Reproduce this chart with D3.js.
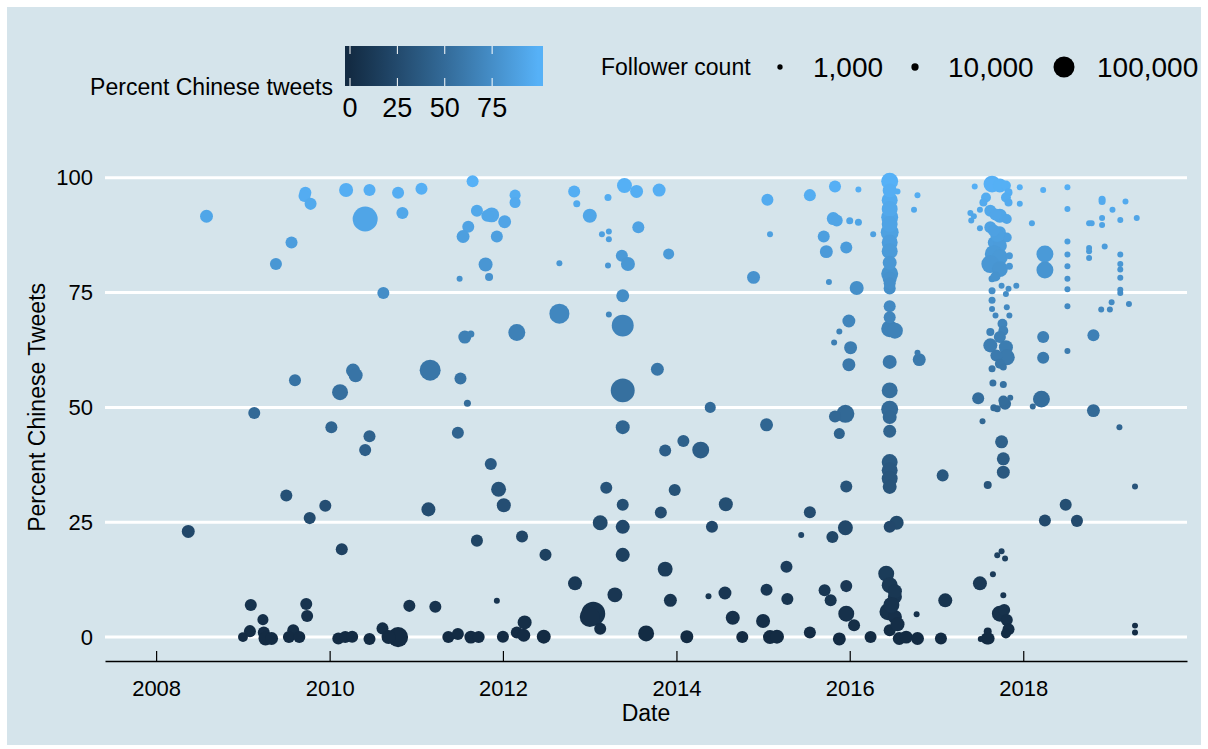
<!DOCTYPE html>
<html>
<head>
<meta charset="utf-8">
<script src="https://cdn.jsdelivr.net/npm/d3@7"></script>
<style>
body { margin: 0; background: #fff; }
text { font-family: "Liberation Sans", Arial, sans-serif; fill: #000; }
</style>
</head>
<body>
<div id="main"></div>
<script>

// account creation date (decimal year)
var dateYears = [
    // 2008 - 2009
    2008.58, 2008.37, 2009.72, 2009.71, 2009.78, 2009.56, 2009.38, 2009.60, 2009.13, 2009.50, 2009.77, 2009.95,
    2009.09, 2009.73, 2009.74, 2009.23, 2009.08, 2009.00, 2009.24, 2009.26, 2009.33, 2009.58, 2009.53, 2009.65,
    // 2010 - 2011
    2010.19, 2010.46, 2010.41, 2010.62, 2010.27, 2010.30, 2010.12, 2010.02, 2010.46, 2010.41, 2010.14, 2010.10,
    2010.18, 2010.26, 2010.46, 2010.61, 2010.79, 2010.68, 2010.92, 2010.79, 2010.84, 2011.06, 2011.16, 2011.14,
    2011.22, 2011.37, 2011.48, 2011.63, 2011.72, 2011.65, 2011.70, 2011.87, 2011.82, 2011.60, 2011.54, 2011.93,
    2011.80, 2011.50, 2011.84, 2011.56, 2011.63, 2011.51, 2011.59, 2011.48, 2011.86, 2011.95, 2011.70,
    // 2012 - 2013
    2012.14, 2012.14, 2012.02, 2012.16, 2012.01, 2012.22, 2012.49, 2011.93, 2012.25, 2012.16, 2012.24,
    2012.47, 2012.00, 2012.82, 2012.85, 2012.65, 2012.65, 2013.00, 2012.83, 2013.04, 2013.00, 2013.12,
    2013.12, 2013.19, 2013.21, 2013.14, 2013.22, 2013.22, 2013.21, 2013.22, 2013.29, 2013.40, 2013.54,
    2013.56, 2013.37, 2013.44, 2013.38, 2013.38, 2013.38, 2013.38, 2013.38, 2013.38, 2013.38, 2013.65,
    // 2014 - 2016
    2013.80, 2013.91, 2013.78, 2014.39, 2014.08, 2013.87, 2014.28, 2013.98, 2014.57, 2013.82,
    2014.41, 2013.87, 2013.93, 2014.37, 2014.56, 2014.65, 2014.12, 2014.76, 2015.05, 2015.08,
    2014.89, 2015.04, 2015.04, 2015.27, 2015.28, 2015.00, 2015.08, 2015.16, 2015.44, 2015.54,
    2015.54, 2015.54, 2015.83, 2016.10, 2015.81, 2015.85, 2016.00, 2016.10, 2016.27, 2015.70,
    2015.96, 2015.73, 2015.76, 2016.08, 2015.99, 2015.88, 2015.82, 2016.01, 2015.99, 2015.95,
    2015.83, 2015.88, 2015.96, 2015.95, 2015.80, 2015.71, 2015.78, 2015.96, 2015.96, 2016.05,
    2015.88, 2016.24,
    // mid 2016 column
    2016.46, 2016.46, 2016.46, 2016.46, 2016.46, 2016.46, 2016.46, 2016.46, 2016.46, 2016.46,
    2016.46, 2016.52, 2016.46, 2016.80, 2016.46, 2016.46, 2016.46, 2016.46, 2016.46, 2016.46,
    2016.46, 2016.46, 2016.54, 2016.46, 2016.42, 2016.46, 2016.52, 2016.44, 2016.52, 2016.46,
    2016.57, 2016.65, 2016.78, 2016.55, 2016.74, 2016.78, 2016.78, 2016.77,
    2016.46, 2016.46, 2016.46, 2016.46, 2016.46, 2016.46, 2016.52, 2016.48, 2016.55,
    // 2017 first half
    2017.07, 2017.10, 2017.05, 2017.44, 2017.39, 2017.40, 2017.43, 2017.48, 2017.50, 2017.53, 2017.51, 2017.58, 2017.59,
    // late 2017 column
    2017.64, 2017.73, 2017.80, 2017.96, 2017.83, 2017.57, 2017.80, 2017.83, 2017.96, 2017.54,
    2017.50, 2017.62, 2017.73, 2017.81, 2017.50, 2017.62, 2017.73, 2017.81, 2017.66, 2017.73,
    2017.66, 2017.73, 2017.62, 2017.73, 2017.84, 2017.84, 2017.64, 2017.75, 2017.83, 2017.80,
    2017.92, 2017.64, 2017.64, 2017.64, 2017.81, 2017.84, 2017.68, 2017.76, 2017.62, 2017.77,
    2017.73, 2017.62, 2017.80, 2017.81, 2017.69, 2017.73, 2017.64, 2017.77, 2017.65, 2017.77,
    2017.79, 2017.85, 2017.66, 2017.70, 2017.75, 2017.77, 2017.77, 2017.59, 2017.75, 2017.70,
    2017.79, 2017.65, 2017.77, 2017.73, 2017.78, 2017.81, 2017.83, 2017.60, 2017.80,
    2017.68, 2017.70, 2017.68, 2017.66, 2017.77,
    // 2018 - 2019
    2018.23, 2018.51, 2018.10, 2018.25, 2018.25, 2018.23, 2018.23, 2018.11, 2018.21, 2018.81,
    2018.51, 2018.51, 2018.51, 2018.51, 2018.51, 2018.51, 2018.51, 2018.51, 2018.81, 2018.76,
    2018.79, 2018.91, 2018.91, 2018.91, 2018.91, 2018.76, 2018.76, 2018.76, 2018.94, 2019.03,
    2019.18, 2019.12, 2019.31, 2019.12, 2019.12, 2019.12, 2019.12, 2019.12, 2019.12, 2019.22,
    2019.02, 2018.90, 2019.00, 2019.11, 2019.29, 2018.49, 2018.25, 2018.62, 2019.29, 2019.29
];

// percent of tweets in Chinese
var pctChinese = [
    91.6, 23.0, 96.7, 96.0, 94.3, 85.9, 81.2, 55.9, 48.8, 30.8, 25.9, 28.6,
    7.0, 7.2, 4.6, 3.8, 1.3, 0.0, 1.0, -0.3, -0.3, 1.5, 0.0, 0.0,

    97.3, 97.3, 91.0, 74.9, 58.0, 57.0, 53.3, 45.7, 43.7, 40.7, 19.1, -0.3,
    0.0, 0.1, -0.4, 1.9, 0.0, 0.0, 6.8, 96.7, 92.3, 97.6, 58.1, 27.8,
    6.6, 0.0, 0.7, 0.0, 0.0, 99.2, 92.8, 91.9, 91.7, 89.3, 87.2, 87.2,
    81.1, 78.0, 78.4, 65.3, 66.0, 56.3, 50.9, 44.5, 37.7, 32.2, 21.0,

    96.2, 94.6, 90.4, 66.3, 28.7, 21.9, 17.9, 7.9, 3.2, 1.0, 0.4,
    0.1, 0.1, 97.0, 94.3, 81.4, 70.4, 91.7, 11.7, 5.1, 4.4, 1.8,
    24.9, 32.5, 95.7, 87.7, 88.3, 86.6, 80.9, 70.2, 9.2, 98.3, 97.0,
    89.2, 83.0, 81.2, 74.3, 67.8, 53.7, 45.7, 28.8, 24.0, 17.9, 0.8,

    97.3, 83.4, 58.3, 50.0, 42.7, 40.6, 40.7, 32.0, 28.9, 27.1,
    24.0, 14.8, 8.0, 8.9, 9.6, 4.2, 0.1, 0.0, 95.2, 87.7,
    78.3, 46.2, 10.3, 15.3, 8.3, 3.5, 0.0, 0.1, 22.2, 27.2,
    1.0, 96.2, 98.1, 97.4, 91.1, 90.7, 90.6, 90.3, 87.7, 87.2,
    84.8, 83.9, 77.3, 76.0, 68.8, 66.5, 64.1, 63.0, 59.3, 48.6,
    48.0, 44.3, 32.8, 23.8, 21.8, 10.2, 8.0, 11.1, 5.1, 2.6,
    -0.4, 0.0,

    99.2, 95.1, 91.4, 88.1, 85.9, 84.0, 79.1, 78.0, 75.9, 72.0,
    67.1, 66.7, 59.9, 60.4, 53.7, 49.6, 47.9, 44.8, 38.1, 36.3,
    34.5, 32.7, 24.9, 24.0, 13.8, 11.3, 8.8, 5.5, 4.4, 1.5,
    -0.3, 0.0, -0.3, 97.0, 93.0, 96.2, 61.9, 5.0,
    97.2, 93.2, 89.9, 81.5, 77.0, 69.6, 10.0, 7.0, 2.8,

    35.2, 8.0, -0.3, 98.1, 92.3, 90.7, 91.6, 52.0, 11.7, 47.0, -0.4, -0.3, 1.2,

    98.6, 98.3, 98.3, 97.9, 96.8, 95.7, 95.7, 94.6, 94.3, 94.6,
    93.0, 92.8, 91.7, 91.0, 89.0, 89.2, 88.1, 87.0, 85.9, 85.2,
    83.4, 82.7, 81.2, 80.1, 83.0, 80.7, 78.0, 76.5, 75.8, 74.7,
    76.5, 75.4, 73.3, 71.4, 71.8, 70.0, 70.0, 68.2, 66.4, 66.7,
    65.3, 63.5, 63.1, 60.9, 61.3, 59.5, 58.4, 58.8, 55.3, 55.0,
    50.8, 52.1, 49.9, 49.7, 42.5, 38.8, 35.9, 33.1, 18.7, 17.8,
    17.1, 13.7, 9.1, 5.1, 5.9, 3.7, 1.7, -0.3, 0.8,
    92.0, 87.5, 78.5, 88.5, 51.5,

    97.3, 97.9, 90.1, 83.4, 79.9, 65.3, 60.8, 50.2, 51.8, 49.3,
    93.2, 86.1, 83.3, 80.7, 78.0, 75.7, 72.0, 62.3, 65.7, 90.1,
    90.1, 95.3, 94.8, 91.2, 89.7, 84.7, 84.0, 82.5, 85.0, 93.0,
    94.8, 90.8, 91.2, 83.3, 81.2, 80.0, 78.2, 75.6, 74.9, 72.5,
    72.9, 71.3, 71.3, 45.7, 32.8, 28.8, 25.4, 25.3, 2.5, 1.0
];

// follower counts
var followerCounts = [
    44000, 44000, 38000, 38000, 38000, 38000, 38000, 38000, 38000, 38000, 38000, 38000,
    38000, 38000, 38000, 32000, 38000, 25000, 38000, 51000, 44000, 38000, 38000, 38000,

    51000, 38000, 130000, 38000, 51000, 51000, 64000, 38000, 38000, 38000, 38000, 38000,
    38000, 38000, 38000, 38000, 93000, 51000, 38000, 38000, 38000, 38000, 100000, 51000,
    38000, 38000, 38000, 44000, 38000, 38000, 38000, 57000, 38000, 38000, 44000, 38000,
    51000, 3800, 14000, 44000, 8700, 38000, 8700, 38000, 38000, 57000, 38000,

    32000, 32000, 44000, 71000, 51000, 38000, 38000, 3800, 51000, 38000, 44000,
    51000, 38000, 38000, 8700, 3800, 93000, 51000, 51000, 122000, 93000, 38000,
    57000, 38000, 8700, 3800, 3800, 3800, 3800, 3800, 57000, 57000, 44000,
    38000, 38000, 51000, 44000, 107000, 122000, 51000, 38000, 51000, 51000, 64000,

    44000, 32000, 44000, 32000, 38000, 38000, 71000, 38000, 51000, 38000,
    38000, 57000, 44000, 3800, 44000, 51000, 44000, 38000, 38000, 3800,
    44000, 44000, 38000, 38000, 38000, 51000, 51000, 51000, 3800, 38000,
    38000, 38000, 38000, 3800, 44000, 38000, 8700, 8700, 3800, 38000,
    38000, 44000, 3800, 51000, 44000, 3800, 3800, 44000, 44000, 78000,
    38000, 32000, 38000, 57000, 38000, 38000, 38000, 38000, 64000, 38000,
    44000, 38000,

    71000, 64000, 71000, 78000, 64000, 64000, 71000, 51000, 38000, 38000,
    71000, 64000, 51000, 44000, 64000, 71000, 51000, 44000, 64000, 64000,
    64000, 51000, 51000, 38000, 64000, 64000, 51000, 71000, 51000, 38000,
    44000, 44000, 44000, 3800, 3800, 3800, 3800, 3800,
    51000, 64000, 64000, 51000, 38000, 38000, 51000, 64000, 51000,

    38000, 51000, 38000, 3800, 3800, 3800, 3800, 38000, 51000, 3800, 3800, 38000, 14000,

    71000, 51000, 25000, 3800, 14000, 25000, 25000, 14000, 3800, 14000,
    3800, 38000, 51000, 25000, 3800, 38000, 38000, 25000, 38000, 51000,
    78000, 64000, 78000, 64000, 8700, 8700, 8700, 3800, 3800, 3800,
    3800, 8700, 8700, 3800, 3800, 3800, 3800, 25000, 14000, 25000,
    38000, 51000, 51000, 64000, 38000, 25000, 8700, 8700, 8700, 8700,
    38000, 3800, 8700, 8700, 44000, 44000, 44000, 14000, 3800, 3800,
    3800, 3800, 3800, 64000, 38000, 38000, 38000, 38000, 25000,
    38000, 51000, 25000, 38000, 25000,

    3800, 3800, 3800, 71000, 71000, 38000, 38000, 3800, 71000, 44000,
    3800, 3800, 3800, 3800, 3800, 3800, 3800, 3800, 38000, 3800,
    3800, 8700, 8700, 3800, 3800, 3800, 3800, 3800, 3800, 3800,
    3800, 3800, 3800, 3800, 3800, 3800, 3800, 3800, 3800, 3800,
    3800, 3800, 3800, 3800, 3800, 38000, 38000, 38000, 3800, 3800
];

var xTickYears = [2008, 2010, 2012, 2014, 2016, 2018];
var yTickValues = [0, 25, 50, 75, 100];
var colorTickValues = [0, 25, 50, 75];
var sizeLegendValues = [1000, 10000, 100000];

if (dateYears.length != pctChinese.length || dateYears.length != followerCounts.length) {
    console.warn("length mismatch", dateYears.length, pctChinese.length, followerCounts.length);
}

function yearToDate(y) {
    var yr = Math.floor(y);
    var start = new Date(yr, 0, 1), end = new Date(yr + 1, 0, 1);
    return new Date(+start + (y - yr) * (end - start));
}

var dataset = dateYears.map(function (d, i) {
    return {date: yearToDate(d), pct: pctChinese[i], followers: followerCounts[i]};
});

const w = 1208;
const h = 749;
const plotLeft = 105, plotRight = 1187, plotTop = 157, plotBottom = 661;

const xScale = d3.scaleTime()
    .domain([yearToDate(2007.41), yearToDate(2019.89)])
    .range([plotLeft, plotRight]);

const yScale = d3.scaleLinear()
    .domain([-5.2, 104.5])
    .range([plotBottom, plotTop]);

const pctMax = d3.max(pctChinese);
const colorScale = d3.scaleLinear()
    .domain([0, pctMax])
    .range(["#132B43", "#56B1F7"])
    .interpolate(d3.interpolateLab)
    .clamp(true);

const rScale = d3.scalePow().exponent(0.85)
    .domain([0, 100000])
    .range([2.5, 10.5]);

const svg = d3.select("#main").append("svg").attr("width", w).attr("height", h);

svg.append("rect").attr("width", w).attr("height", h).attr("fill", "#fff");
svg.append("rect")
    .attr("x", 7).attr("y", 7)
    .attr("width", w - 14).attr("height", h - 11)
    .attr("fill", "#d5e4eb");

// gridlines
svg.append("g")
    .selectAll("line")
    .data(yTickValues)
    .enter()
    .append("line")
    .attr("x1", plotLeft).attr("x2", plotRight)
    .attr("y1", d => yScale(d)).attr("y2", d => yScale(d))
    .attr("stroke", "#fff")
    .attr("stroke-width", 3);

// x axis (ticks point up, like the economist theme)
const xAxis = d3.axisBottom(xScale)
    .tickValues(xTickYears.map(y => new Date(y, 0, 1)))
    .tickFormat(d3.timeFormat("%Y"))
    .tickSizeInner(-10)
    .tickSizeOuter(0)
    .tickPadding(19);

const gx = svg.append("g")
    .attr("transform", "translate(0," + plotBottom + ")")
    .call(xAxis);
gx.select(".domain").attr("stroke", "#000").attr("stroke-width", 1.5);
gx.selectAll(".tick line").attr("stroke", "#000").attr("stroke-width", 1.2);
gx.selectAll("text").style("font-size", "22px").attr("fill", "#000")
    .style("font-family", "'Liberation Sans', Arial, sans-serif");

// y axis labels only
const yAxis = d3.axisLeft(yScale)
    .tickValues(yTickValues)
    .tickSize(0)
    .tickPadding(12);

const gy = svg.append("g")
    .attr("transform", "translate(" + plotLeft + ",0)")
    .call(yAxis);
gy.select(".domain").remove();
gy.selectAll("text").style("font-size", "22px").attr("fill", "#000")
    .style("font-family", "'Liberation Sans', Arial, sans-serif");

// axis titles
svg.append("text")
    .attr("x", (plotLeft + plotRight) / 2)
    .attr("y", 713)
    .attr("dominant-baseline", "central")
    .style("text-anchor", "middle")
    .style("font-size", "23px")
    .text("Date");

svg.append("text")
    .attr("transform", "translate(37," + yScale(50) + ") rotate(-90)")
    .attr("dominant-baseline", "central")
    .style("text-anchor", "middle")
    .style("font-size", "23px")
    .text("Percent Chinese Tweets");

// points
svg.append("g")
    .selectAll("circle")
    .data(dataset)
    .enter()
    .append("circle")
    .attr("cx", d => xScale(d.date))
    .attr("cy", d => yScale(d.pct))
    .attr("r", d => rScale(d.followers))
    .style("fill", d => colorScale(d.pct));

// colour legend
const barX = 345, barY = 46, barW = 198, barH = 40;
const barScale = d3.scaleLinear().domain([0, pctMax]).range([350, 538]);

const grad = svg.append("defs").append("linearGradient")
    .attr("id", "pctGrad")
    .attr("x1", "0%").attr("x2", "100%").attr("y1", "0%").attr("y2", "0%");
grad.selectAll("stop")
    .data(d3.range(0, 11).map(i => i / 10 * pctMax))
    .enter()
    .append("stop")
    .attr("offset", d => (barScale(d) - barX) / barW)
    .attr("stop-color", d => colorScale(d));

svg.append("rect")
    .attr("x", barX).attr("y", barY)
    .attr("width", barW).attr("height", barH)
    .attr("fill", "url(#pctGrad)");

const cticks = svg.append("g").selectAll("g")
    .data(colorTickValues)
    .enter()
    .append("g");
cticks.append("line")
    .attr("x1", d => barScale(d)).attr("x2", d => barScale(d))
    .attr("y1", barY).attr("y2", barY + 8)
    .attr("stroke", "#fff").attr("stroke-width", 1);
cticks.append("line")
    .attr("x1", d => barScale(d)).attr("x2", d => barScale(d))
    .attr("y1", barY + barH - 8).attr("y2", barY + barH)
    .attr("stroke", "#fff").attr("stroke-width", 1);
cticks.append("text")
    .attr("x", d => barScale(d))
    .attr("y", 108)
    .attr("dominant-baseline", "central")
    .style("text-anchor", "middle")
    .style("font-size", "27px")
    .text(d => d);

svg.append("text")
    .attr("x", 333)
    .attr("y", 87)
    .attr("dominant-baseline", "central")
    .style("text-anchor", "end")
    .style("font-size", "23px")
    .text("Percent Chinese tweets");

// size legend
svg.append("text")
    .attr("x", 601)
    .attr("y", 67)
    .attr("dominant-baseline", "central")
    .style("font-size", "23px")
    .text("Follower count");

const dotX = [780, 915, 1064];
const sizeKeys = svg.append("g").selectAll("g")
    .data(sizeLegendValues)
    .enter()
    .append("g");
sizeKeys.append("circle")
    .attr("cx", (d, i) => dotX[i])
    .attr("cy", 67)
    .attr("r", d => rScale(d))
    .style("fill", "#000");
sizeKeys.append("text")
    .attr("x", (d, i) => dotX[i] + 33)
    .attr("y", 67)
    .attr("dominant-baseline", "central")
    .style("font-size", "28px")
    .text(d => d3.format(",")(d));

</script>
</body>
</html>
